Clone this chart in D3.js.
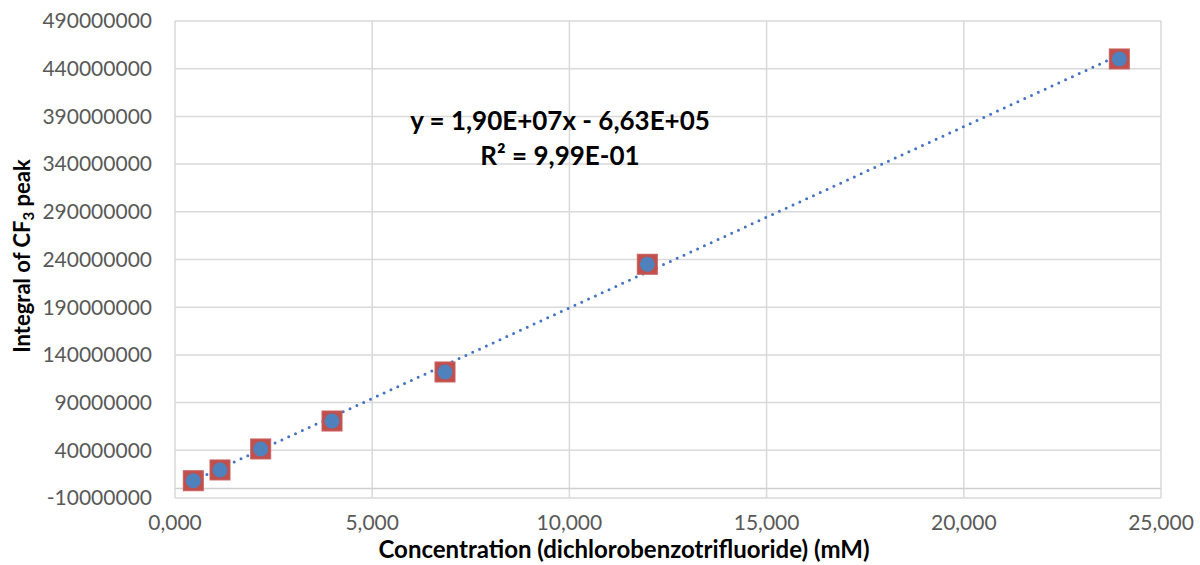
<!DOCTYPE html>
<html><head><meta charset="utf-8">
<script src="https://cdn.jsdelivr.net/npm/d3@7"></script>
<style>body{margin:0;background:#fff}svg{display:block}</style>
</head><body><svg id="c" width="1200" height="565"></svg>
<script>
const concentrations = [0.464, 1.141, 2.173, 3.981, 6.846, 11.975, 23.943];
const integrals = [8100000, 19400000, 41400000, 70700000, 122100000, 235000000, 450200000];
const xTicks = [0, 5, 10, 15, 20, 25];
const xTickLabels = ["0,000", "5,000", "10,000", "15,000", "20,000", "25,000"];
const yTicks = [-10000000, 40000000, 90000000, 140000000, 190000000, 240000000, 290000000, 340000000, 390000000, 440000000, 490000000];
const slope = 1.90e7, intercept = -6.63e5;
const eqLine1 = "y = 1,90E+07x - 6,63E+05";
const eqLine2 = "R² = 9,99E-01";

const svg = d3.select("#c");
const m = {l:175, r:1161, t:21, b:498};
const x = d3.scaleLinear().domain([0,25]).range([m.l, m.r]);
const y = d3.scaleLinear().domain([-10000000, 490000000]).range([m.b, m.t]);
const font = "Lato, 'Open Sans', sans-serif";
const grid = "#d9d9d9";

svg.append("g").selectAll("line").data(yTicks).join("line")
  .attr("x1", m.l).attr("x2", m.r).attr("y1", d=>y(d)).attr("y2", d=>y(d))
  .attr("stroke", grid).attr("stroke-width", 1.5);
svg.append("g").selectAll("line").data(xTicks).join("line")
  .attr("x1", d=>x(d)).attr("x2", d=>x(d)).attr("y1", m.t).attr("y2", m.b)
  .attr("stroke", grid).attr("stroke-width", 1.5);
svg.append("line").attr("x1", m.l).attr("x2", m.r).attr("y1", y(0)).attr("y2", y(0))
  .attr("stroke", "#d0d0d0").attr("stroke-width", 1.5);

svg.append("g").selectAll("text").data(yTicks).join("text")
  .attr("x", 152).attr("y", d=>y(d)).attr("dy", "0.35em")
  .attr("text-anchor", "end").attr("font-family", font).attr("font-size", 21)
  .attr("fill", "#595959").text(d=>String(d));
svg.append("g").selectAll("text").data(xTicks).join("text")
  .attr("x", d=>x(d)).attr("y", 523).attr("dy", "0.35em")
  .attr("text-anchor", "middle").attr("font-family", font).attr("font-size", 21)
  .attr("fill", "#595959").text((d,i)=>xTickLabels[i]);

const xmin = d3.min(concentrations), xmax = d3.max(concentrations);
svg.append("line")
  .attr("x1", x(xmin)).attr("y1", y(slope*xmin+intercept))
  .attr("x2", x(xmax)).attr("y2", y(slope*xmax+intercept))
  .attr("stroke", "#4472c4").attr("stroke-width", 3)
  .attr("stroke-linecap", "round").attr("stroke-dasharray", "0 7.5");

const pts = concentrations.map((c,i)=>({c, v: integrals[i]}));
svg.append("g").selectAll("rect").data(pts).join("rect")
  .attr("x", d=>x(d.c)-10).attr("y", d=>y(d.v)-10)
  .attr("width", 20).attr("height", 20)
  .attr("fill", "#c0504d").attr("stroke", "#c9605d").attr("stroke-width", 1);
svg.append("g").selectAll("circle").data(pts).join("circle")
  .attr("cx", d=>x(d.c)).attr("cy", d=>y(d.v)).attr("r", 7.5)
  .attr("fill", "#4f81bd");

svg.append("text").attr("x", 560).attr("y", 121).attr("dy", "0.35em")
  .attr("text-anchor", "middle").attr("font-family", font).attr("font-weight", "bold")
  .attr("font-size", 26).attr("fill", "#000").text(eqLine1);
svg.append("text").attr("x", 560).attr("y", 156).attr("dy", "0.35em")
  .attr("text-anchor", "middle").attr("font-family", font).attr("font-weight", "bold")
  .attr("font-size", 26).attr("fill", "#000").text(eqLine2);

svg.append("text").attr("x", 624).attr("y", 550).attr("dy", "0.35em")
  .attr("text-anchor", "middle").attr("font-family", font).attr("font-weight", "bold")
  .attr("font-size", 24).attr("fill", "#000")
  .text("Concentration (dichlorobenzotrifluoride) (mM)");
const yt = svg.append("text").attr("transform", "translate(22,256) rotate(-90)")
  .attr("dy", "0.35em").attr("text-anchor", "middle").attr("font-family", font)
  .attr("font-weight", "bold").attr("font-size", 22).attr("fill", "#000");
yt.append("tspan").text("Integral of CF");
yt.append("tspan").attr("font-size", 15).attr("dy", "0.3em").text("3");
yt.append("tspan").attr("dy", "-0.2em").text(" peak");
</script></body></html>
